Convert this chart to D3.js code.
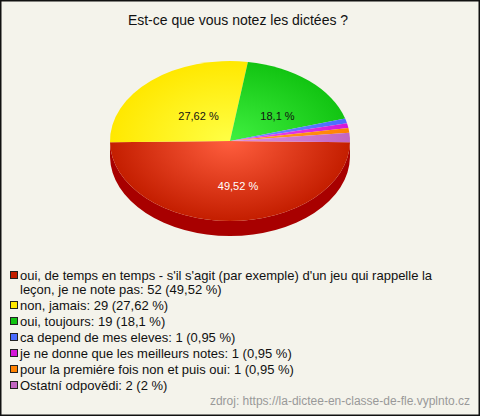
<!DOCTYPE html>
<html>
<head>
<meta charset="utf-8">
<script src="https://cdn.jsdelivr.net/npm/d3@7"></script>
<style>
  body { margin: 0; background: #fff; }
  text { font-family: "Liberation Sans", Arial, sans-serif; }
</style>
</head>
<body>
<div id="chart"></div>
<script>
const width = 480, height = 416;

// data
const title = "Est-ce que vous notez les dictées ?";
const labels = [
    "oui, de temps en temps - s'il s'agit (par exemple) d'un jeu qui rappelle la leçon, je ne note pas",
    "non, jamais",
    "oui, toujours",
    "ca depend de mes eleves",
    "je ne donne que les meilleurs notes",
    "pour la premiére fois non et puis oui",
    "Ostatní odpovědi"
];
const counts = [52, 29, 19, 1, 1, 1, 2];
const percents = ["49,52", "27,62", "18,1", "0,95", "0,95", "0,95", "2"];
const colors = ["#c41e00", "#ffe800", "#12c412", "#4a6cff", "#d418d8", "#ff8200", "#c266c2"];
const lightColors = ["#ff5e3e", "#ffff45", "#40f040", "#7090ff", "#f050f0", "#ffa030", "#e090e0"];
const sideColors = ["#a80000", "#c8b000", "#0a900a", "#3050c0", "#a010a0", "#c06000", "#904890"];
const source = "zdroj: https://la-dictee-en-classe-de-fle.vyplnto.cz";

// pie geometry
const cx = 230, cy = 141, rx = 120, ry = 80, depth = 15;

const svg = d3.select("#chart").append("svg")
    .attr("width", width)
    .attr("height", height);

svg.append("rect")
    .attr("x", 0.75).attr("y", 0.75)
    .attr("width", width - 1.5).attr("height", height - 1.5)
    .attr("fill", "#f4f3eb")
    .attr("stroke", "#111")
    .attr("stroke-width", 1.5);

svg.append("text")
    .attr("x", 238).attr("y", 25)
    .attr("text-anchor", "middle")
    .style("font-size", "14px")
    .attr("fill", "#111")
    .text(title);

const total = d3.sum(counts);
const redSpan = counts[0] / total * 2 * Math.PI;
const pie = d3.pie().sort(null)
    .startAngle(Math.PI - redSpan / 2)
    .endAngle(Math.PI - redSpan / 2 + 2 * Math.PI);
const arcs = pie(counts);

function pt(a, dy) {
    return [cx + rx * Math.sin(a), cy - ry * Math.cos(a) + (dy || 0)];
}

const defs = svg.append("defs");
colors.forEach((c, i) => {
    const g = defs.append("radialGradient")
        .attr("id", "grad" + i)
        .attr("gradientUnits", "userSpaceOnUse")
        .attr("cx", 0).attr("cy", 0).attr("r", rx)
        .attr("gradientTransform", `translate(${cx},${cy}) scale(1,${ry / rx})`);
    g.append("stop").attr("offset", "0%").attr("stop-color", lightColors[i]);
    g.append("stop").attr("offset", "100%").attr("stop-color", c);
});

// side walls (front half only: angles between PI/2 and 3PI/2)
const sides = svg.append("g");
arcs.forEach((d, i) => {
    let a0 = d.startAngle, a1 = d.endAngle;
    for (let k = -1; k <= 1; k++) {
        const s = Math.max(a0 + k * 2 * Math.PI, Math.PI / 2);
        const e = Math.min(a1 + k * 2 * Math.PI, 3 * Math.PI / 2);
        if (e > s) {
            const p0 = pt(s), p1 = pt(e), q1 = pt(e, depth), q0 = pt(s, depth);
            const path = `M${p0}A${rx},${ry} 0 0 1 ${p1}L${q1}A${rx},${ry} 0 0 0 ${q0}Z`;
            sides.append("path").attr("d", path).attr("fill", sideColors[i]);
        }
    }
});

// top faces
svg.append("g").selectAll("path")
    .data(arcs)
    .join("path")
    .attr("d", d => {
        const p0 = pt(d.startAngle), p1 = pt(d.endAngle);
        const large = d.endAngle - d.startAngle > Math.PI ? 1 : 0;
        return `M${cx},${cy}L${p0}A${rx},${ry} 0 ${large} 1 ${p1}Z`;
    })
    .attr("fill", (d, i) => `url(#grad${i})`);

// percent labels on the big slices
svg.append("g").selectAll("text")
    .data(arcs.filter(d => d.value / total > 0.1))
    .join("text")
    .attr("x", d => pt((d.startAngle + d.endAngle) / 2)[0] * 0.5 + cx * 0.5 + 8)
    .attr("y", d => pt((d.startAngle + d.endAngle) / 2)[1] * 0.5 + cy * 0.5 + 9)
    .attr("text-anchor", "middle")
    .style("font-size", "11px")
    .attr("fill", d => d.index === 0 ? "#fff" : "#111")
    .text(d => percents[d.index] + " %");

// legend
const legend = svg.append("g");
let y = 280;
labels.forEach((lab, i) => {
    const full = `${lab}: ${counts[i]} (${percents[i]} %)`;
    legend.append("rect")
        .attr("x", 10.5).attr("y", y - 8.5)
        .attr("width", 7).attr("height", 7)
        .attr("fill", colors[i])
        .attr("stroke", "#222");
    const t = legend.append("text")
        .attr("x", 20).attr("y", y)
        .style("font-size", "13px")
        .attr("fill", "#111");
    // word wrap
    const words = full.split(" ");
    let line = [];
    let ts = t.append("tspan").attr("x", 20).attr("y", y);
    words.forEach(w => {
        line.push(w);
        ts.text(line.join(" "));
        if (ts.node().getComputedTextLength() > 445 && line.length > 1) {
            line.pop();
            ts.text(line.join(" "));
            line = [w];
            y += 14;
            ts = t.append("tspan").attr("x", 20).attr("y", y).text(w);
        }
    });
    y += 16;
});

svg.append("text")
    .attr("x", 470).attr("y", 405)
    .attr("text-anchor", "end")
    .style("font-size", "12px")
    .attr("fill", "#999")
    .text(source);
</script>
</body>
</html>
